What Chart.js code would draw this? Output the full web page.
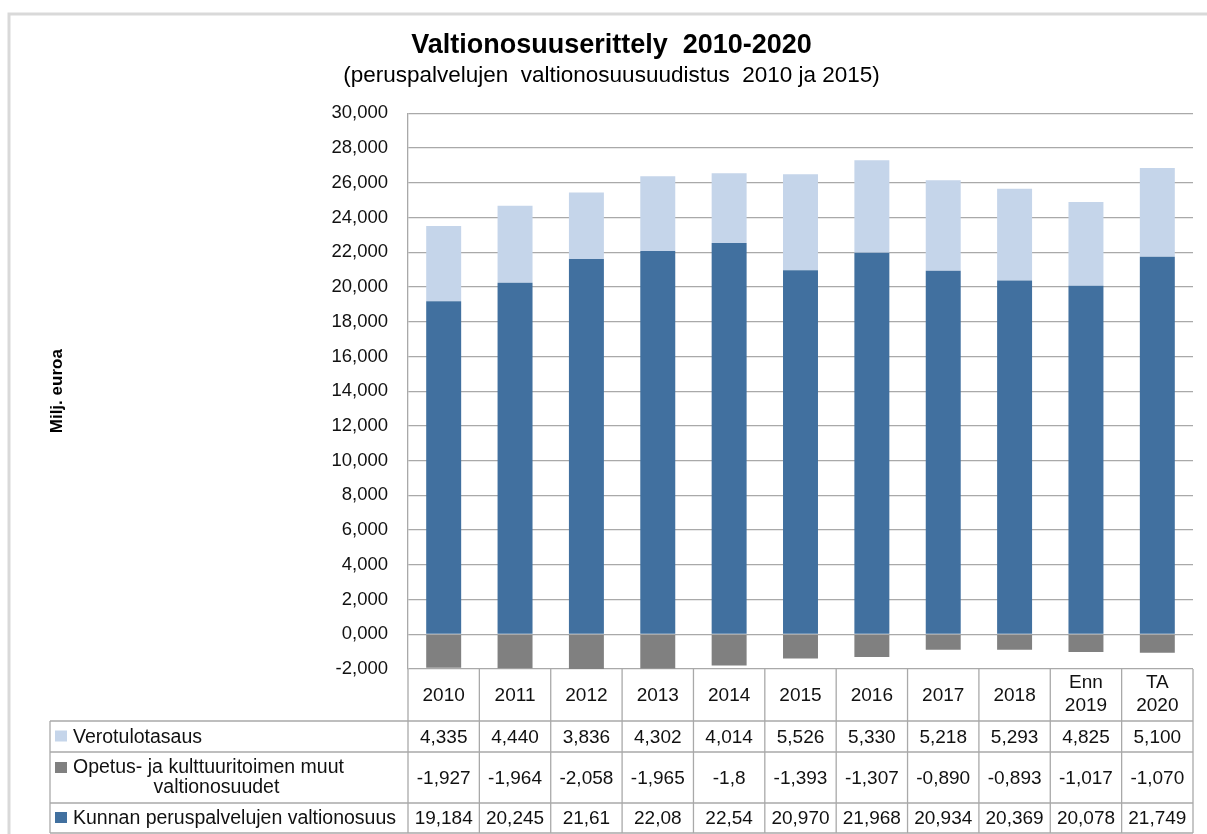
<!DOCTYPE html>
<html>
<head>
<meta charset="utf-8">
<script src="https://cdn.jsdelivr.net/npm/chart.js@4.4.1/dist/chart.umd.min.js"></script>
<style>
  html, body { margin: 0; padding: 0; background: #fff; }
  #wrap { width: 1207px; height: 834px; }
</style>
</head>
<body>
<div id="wrap"><canvas id="c" width="1207" height="834"></canvas></div>
<script>
var years = ['2010', '2011', '2012', '2013', '2014', '2015', '2016', '2017', '2018', ['Enn', '2019'], ['TA', '2020']];

// values as printed in the table (decimal comma)
var verotulotasaus = ['4,335', '4,440', '3,836', '4,302', '4,014', '5,526', '5,330', '5,218', '5,293', '4,825', '5,100'];
var opetus = ['-1,927', '-1,964', '-2,058', '-1,965', '-1,8', '-1,393', '-1,307', '-0,890', '-0,893', '-1,017', '-1,070'];
var kunnan = ['19,184', '20,245', '21,61', '22,08', '22,54', '20,970', '21,968', '20,934', '20,369', '20,078', '21,749'];

var seriesNames = ['Verotulotasaus', ['Opetus- ja kulttuuritoimen muut', 'valtionosuudet'], 'Kunnan peruspalvelujen valtionosuus'];

var yMin = -2, yMax = 30, yStep = 2;

var FONT = "'Liberation Sans', Arial, sans-serif";
var LIGHT = '#c5d5ea', GRAY = '#808080', DARK = '#41709f';
var LINE = '#a9a9a9';

function num(s) { return parseFloat(s.replace(',', '.')); }
function fmt(v) { return v.toFixed(3).replace('.', ','); }

var tableRows = [
    { name: seriesNames[0], values: verotulotasaus, color: LIGHT, h: 31 },
    { name: seriesNames[1], values: opetus, color: GRAY, h: 51 },
    { name: seriesNames[2], values: kunnan, color: DARK, h: 30 }
];

/* white page + light frame */
var framePlugin = {
    id: 'frame',
    beforeDraw: function (chart) {
        var ctx = chart.ctx;
        ctx.save();
        ctx.fillStyle = '#fff';
        ctx.fillRect(0, 0, chart.width, chart.height);
        ctx.strokeStyle = '#d9d9d9';
        ctx.lineWidth = 3;
        ctx.beginPath();
        ctx.moveTo(9, chart.height);
        ctx.lineTo(9, 14);
        ctx.lineTo(chart.width, 14);
        ctx.stroke();
        ctx.restore();
    }
};

/* data table under the plot, columns follow the x scale */
var tablePlugin = {
    id: 'dataTable',
    afterDraw: function (chart) {
        var ctx = chart.ctx;
        var xs = chart.scales.x;
        var area = chart.chartArea;
        var n = years.length;
        var colW = (area.right - area.left) / n;
        var tableLeft = 50;
        var headTop = area.bottom, headH = 52;
        var numFont = '19px ' + FONT, nameFont = '19.5px ' + FONT;

        ctx.save();
        ctx.strokeStyle = LINE;
        ctx.lineWidth = 1.3;
        ctx.fillStyle = '#111';
        ctx.font = numFont;
        ctx.textAlign = 'center';
        ctx.textBaseline = 'middle';

        // header row
        var y = headTop;
        var rowsBottom = headTop + headH;
        tableRows.forEach(function (r) { rowsBottom += r.h; });

        for (var i = 0; i <= n; i++) {
            var lx = xs.getPixelForValue(0) - colW / 2 + i * colW;
            ctx.beginPath();
            ctx.moveTo(lx, headTop);
            ctx.lineTo(lx, rowsBottom);
            ctx.stroke();
        }
        for (i = 0; i < n; i++) {
            var cx = xs.getPixelForValue(i);
            var lab = years[i];
            if (Array.isArray(lab)) {
                ctx.fillText(lab[0], cx, headTop + 14);
                ctx.fillText(lab[1], cx, headTop + 37);
            } else {
                ctx.fillText(lab, cx, headTop + 27);
            }
        }

        // body rows
        y = headTop + headH;
        ctx.beginPath();
        ctx.moveTo(tableLeft, y);
        ctx.lineTo(area.right, y);
        ctx.stroke();
        tableRows.forEach(function (r) {
            var mid = y + r.h / 2;
            // legend key
            ctx.fillStyle = r.color;
            ctx.fillRect(55, (Array.isArray(r.name) ? y + 10 : mid - 6), 12, 11);
            ctx.fillStyle = '#111';
            ctx.font = nameFont;
            ctx.textAlign = 'left';
            if (Array.isArray(r.name)) {
                ctx.fillText(r.name[0], 73, y + 16);
                var w0 = ctx.measureText(r.name[0]).width;
                ctx.textAlign = 'center';
                ctx.fillText(r.name[1], 81 + w0 / 2, y + 36);
            } else {
                ctx.fillText(r.name, 73, mid + 1);
            }
            ctx.font = numFont;
            ctx.textAlign = 'center';
            for (var k = 0; k < n; k++) {
                ctx.fillText(r.values[k], xs.getPixelForValue(k), mid + 1);
            }
            y += r.h;
            ctx.beginPath();
            ctx.moveTo(tableLeft, y);
            ctx.lineTo(area.right, y);
            ctx.stroke();
        });
        ctx.beginPath();
        ctx.moveTo(tableLeft, headTop + headH);
        ctx.lineTo(tableLeft, rowsBottom);
        ctx.stroke();
        ctx.restore();
    }
};

var ctx = document.getElementById('c').getContext('2d');
var chart = new Chart(ctx, {
    type: 'bar',
    data: {
        labels: years,
        datasets: [
            { label: seriesNames[2], data: kunnan.map(num), backgroundColor: DARK },
            { label: seriesNames[1].join(' '), data: opetus.map(num), backgroundColor: GRAY },
            { label: seriesNames[0], data: verotulotasaus.map(num), backgroundColor: LIGHT }
        ]
    },
    options: {
        responsive: false,
        animation: false,
        barPercentage: 0.49,
        categoryPercentage: 1,
        layout: { padding: { left: 30, right: 14, top: 0, bottom: 165 } },
        plugins: {
            legend: { display: false },
            tooltip: { enabled: false },
            title: {
                display: true,
                text: 'Valtionosuuserittely  2010-2020',
                color: '#000',
                font: { family: FONT, size: 27, weight: 'bold', lineHeight: 1.2 },
                padding: { top: 29, bottom: 0 }
            },
            subtitle: {
                display: true,
                text: '(peruspalvelujen  valtionosuusuudistus  2010 ja 2015)',
                color: '#000',
                font: { family: FONT, size: 22.5, lineHeight: 1.2 },
                padding: { top: 1, bottom: 24 }
            }
        },
        scales: {
            x: {
                stacked: true,
                display: false
            },
            y: {
                stacked: true,
                min: yMin,
                max: yMax,
                ticks: {
                    stepSize: yStep,
                    padding: 20,
                    color: '#111',
                    font: { family: FONT, size: 18.5 },
                    callback: function (v) { return fmt(v); }
                },
                grid: { color: LINE, lineWidth: 1.3, drawTicks: false },
                border: { color: LINE, width: 1.3 },
                title: {
                    display: true,
                    text: 'Milj. euroa',
                    color: '#000',
                    font: { family: FONT, size: 17, weight: 'bold' },
                    padding: { top: 17, bottom: 0 }
                },
                afterFit: function (scale) { scale.width = 378; }
            }
        }
    },
    plugins: [framePlugin, tablePlugin]
});
</script>
</body>
</html>
